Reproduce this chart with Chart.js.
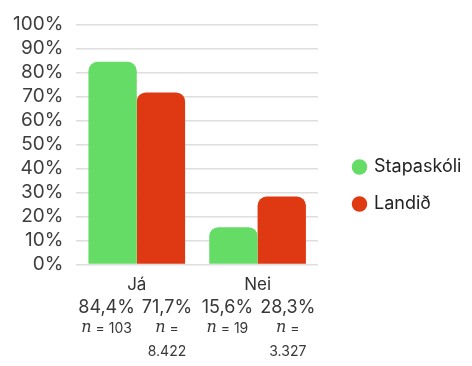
<!DOCTYPE html>
<html>
<head>
<meta charset="utf-8">
<script src="https://cdn.jsdelivr.net/npm/chart.js@4/dist/chart.umd.min.js"></script>
<style>
    html, body { margin: 0; padding: 0; background: #fff; }
    #wrap { width: 472px; height: 366px; position: relative; }
</style>
</head>
<body>
<div id="wrap"><canvas id="chart"></canvas></div>
<script>
var categories = ['Já', 'Nei'];
var seriesNames = ['Stapaskóli', 'Landið'];
var stapaskoli = [84.4, 15.6];
var landid = [71.7, 28.3];
var nStapaskoli = [103, 19];
var nLandid = [8422, 3327];
var yTicks = [0, 10, 20, 30, 40, 50, 60, 70, 80, 90, 100];

var colors = ['#65dc66', '#de3912'];
var counts = [nStapaskoli, nLandid];

function formatPercent(v) {
    return v.toFixed(1).replace('.', ',') + '%';
}

function formatCount(v) {
    return String(v).replace(/\B(?=(\d{3})+(?!\d))/g, '.');
}

// texts under every category, one column per series: percent and n
var barLabels = {
    id: 'barLabels',
    afterDraw: function (chart) {
        var ctx = chart.ctx;
        var xScale = chart.scales.x;
        var base = chart.chartArea.bottom;
        var nSeries = chart.data.datasets.length;
        var catWidth = xScale.width / chart.data.labels.length;
        var nFont = 'italic 16px "DejaVu Serif"';
        var restFont = '14px Inter';
        ctx.save();
        ctx.textBaseline = 'middle';
        chart.data.datasets.forEach(function (ds, i) {
            ds.data.forEach(function (value, j) {
                var cx = xScale.getPixelForValue(j) - catWidth / 2 + catWidth * (i + 0.5) / nSeries;
                ctx.fillStyle = '#383838';
                ctx.textAlign = 'center';
                ctx.font = '18px Inter';
                ctx.fillText(formatPercent(value), cx, base + 43);

                var num = formatCount(counts[i][j]);
                ctx.font = nFont;
                var nW = ctx.measureText('n').width;
                ctx.font = restFont;
                var restW = ctx.measureText(' = ' + num).width;
                var eqW = ctx.measureText(' =').width;
                ctx.textAlign = 'left';
                if (nW + restW <= 56) {
                    var x0 = cx - (nW + restW) / 2;
                    ctx.font = nFont;
                    ctx.fillText('n', x0, base + 63);
                    ctx.font = restFont;
                    ctx.fillText(' = ' + num, x0 + nW, base + 64);
                } else {
                    var x1 = cx - (nW + eqW) / 2;
                    ctx.font = nFont;
                    ctx.fillText('n', x1, base + 63);
                    ctx.font = restFont;
                    ctx.fillText(' =', x1 + nW, base + 64);
                    ctx.textAlign = 'center';
                    ctx.fillText(num, cx, base + 87);
                }
            });
        });
        ctx.restore();
    }
};

var ctx = document.getElementById('chart').getContext('2d');
var chart = new Chart(ctx, {
    type: 'bar',
    data: {
        labels: categories,
        datasets: [{
            label: seriesNames[0],
            data: stapaskoli,
            backgroundColor: colors[0],
            borderRadius: { topLeft: 9, topRight: 9 },
            borderSkipped: 'bottom'
        }, {
            label: seriesNames[1],
            data: landid,
            backgroundColor: colors[1],
            borderRadius: { topLeft: 9, topRight: 9 },
            borderSkipped: 'bottom'
        }]
    },
    options: {
        responsive: true,
        maintainAspectRatio: false,
        animation: false,
        categoryPercentage: 0.8,
        barPercentage: 1.0,
        layout: {
            padding: { top: 12, left: 0, right: 0, bottom: 69 }
        },
        scales: {
            x: {
                grid: { display: false },
                border: { display: false },
                ticks: {
                    color: '#333',
                    padding: 2,
                    font: { family: 'Inter', size: 17 }
                }
            },
            y: {
                min: 0,
                max: 100,
                afterBuildTicks: function (axis) {
                    axis.ticks = yTicks.map(function (v) { return { value: v }; });
                },
                grid: { color: '#dedede', lineWidth: 1.5, drawTicks: false },
                border: { display: false },
                ticks: {
                    color: '#3e3e3e',
                    padding: 13,
                    autoSkip: false,
                    font: { family: 'Inter', size: 19 },
                    callback: function (value) { return value + '%'; }
                }
            }
        },
        plugins: {
            legend: {
                position: 'right',
                labels: {
                    usePointStyle: true,
                    pointStyle: 'circle',
                    boxWidth: 11,
                    boxHeight: 11,
                    padding: 19,
                    color: '#222',
                    font: { family: 'Inter', size: 18 }
                }
            },
            tooltip: { enabled: false }
        }
    },
    plugins: [barLabels]
});

// the legend sits in a wider column than chart.js allows by default
var legendFit = chart.legend.fit;
chart.legend.fit = function () {
    legendFit.apply(this, arguments);
    this.width = 154;
};
var legendDraw = chart.legend.draw;
chart.legend.draw = function () {
    var c = this.ctx;
    c.save();
    c.translate(17, 31);
    legendDraw.apply(this, arguments);
    c.restore();
};
chart.update();
</script>
</body>
</html>
